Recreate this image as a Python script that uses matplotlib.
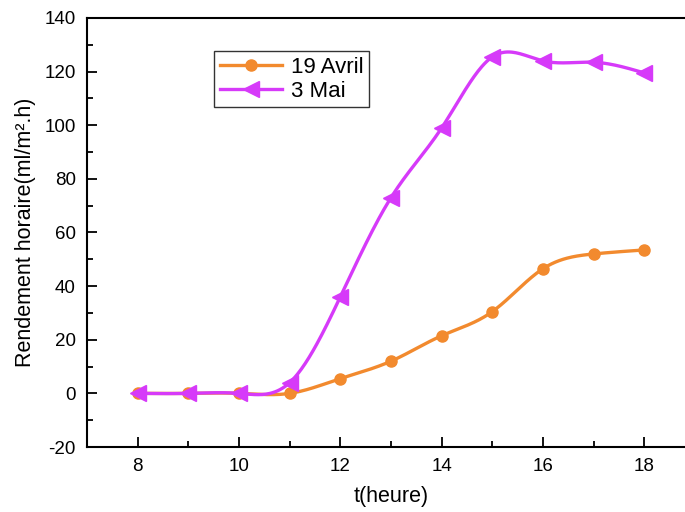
import numpy as np
import matplotlib
matplotlib.use("Agg")
import matplotlib.pyplot as plt
from matplotlib.ticker import MultipleLocator

plt.rcParams['font.family'] = ['Liberation Sans', 'DejaVu Sans']
plt.rcParams['axes.unicode_minus'] = False

hours = [8, 9, 10, 11, 12, 13, 14, 15, 16, 17, 18]
avril19 = [0, 0, 0, 0, 5.5, 12, 21.5, 30.5, 46.5, 52, 53.5]
mai3 = [0, 0, 0, 4, 36, 73, 99, 125.5, 124, 123.5, 119.5]
series_labels = ["19 Avril", "3 Mai"]
colors = ["#F28A2E", "#D63AF9"]


def natural_spline(x, y, n=400):
    x = np.asarray(x, float)
    y = np.asarray(y, float)
    k = len(x)
    h = np.diff(x)
    A = np.zeros((k, k))
    b = np.zeros(k)
    A[0, 0] = 1
    A[-1, -1] = 1
    for i in range(1, k - 1):
        A[i, i - 1] = h[i - 1]
        A[i, i] = 2 * (h[i - 1] + h[i])
        A[i, i + 1] = h[i]
        b[i] = 3 * ((y[i + 1] - y[i]) / h[i] - (y[i] - y[i - 1]) / h[i - 1])
    c = np.linalg.solve(A, b)
    xs = np.linspace(x[0], x[-1], n)
    ys = np.empty_like(xs)
    for j, xv in enumerate(xs):
        i = min(np.searchsorted(x, xv, side='right') - 1, k - 2)
        dx = xv - x[i]
        bi = (y[i + 1] - y[i]) / h[i] - h[i] * (2 * c[i] + c[i + 1]) / 3
        di = (c[i + 1] - c[i]) / (3 * h[i])
        ys[j] = y[i] + bi * dx + c[i] * dx ** 2 + di * dx ** 3
    return xs, ys


fig = plt.figure(figsize=(6.85, 5.12), dpi=100)
W, H = 685, 512
left, right, top, bottom = 87, 695, 18, 447
ax = fig.add_axes([left / W, 1 - bottom / H, (right - left) / W, (bottom - top) / H])

markers = ['o', '<']
msizes = [8, 11]
for yv, lab, col, mk, ms in zip([avril19, mai3], series_labels, colors, markers, msizes):
    xs, ys = natural_spline(hours, yv)
    ax.plot(xs, ys, color=col, lw=2.4)
    ax.plot(hours, yv, linestyle='none', marker=mk, ms=ms, color=col)
    ax.plot([], [], color=col, lw=2.4, marker=mk, ms=ms, label=lab)

ax.set_xlim(7, 19)
ax.set_ylim(-20, 140)
ax.xaxis.set_major_locator(MultipleLocator(2))
ax.xaxis.set_minor_locator(MultipleLocator(1))
ax.yaxis.set_major_locator(MultipleLocator(20))
ax.yaxis.set_minor_locator(MultipleLocator(10))
ax.tick_params(which='major', direction='in', length=7, width=1.3, labelsize=13.5, pad=8)
ax.tick_params(which='minor', direction='in', length=4, width=1.3)
ax.tick_params(top=False, right=False)
for s in ax.spines.values():
    s.set_linewidth(1.5)
ax.spines['right'].set_visible(False)

ax.set_xlabel("t(heure)", fontsize=15.5, labelpad=8)
ax.set_ylabel("Rendement horaire(ml/m².h)", fontsize=15.5, labelpad=6)

leg = ax.legend(loc='upper left', bbox_to_anchor=(0.209, 0.923), fontsize=16,
                frameon=True, fancybox=False, edgecolor='black', handlelength=2.8,
                borderpad=0.25, labelspacing=0.15, handletextpad=0.4, borderaxespad=0)
leg.get_frame().set_linewidth(1.0)

fig.savefig("out.png", dpi=100)
